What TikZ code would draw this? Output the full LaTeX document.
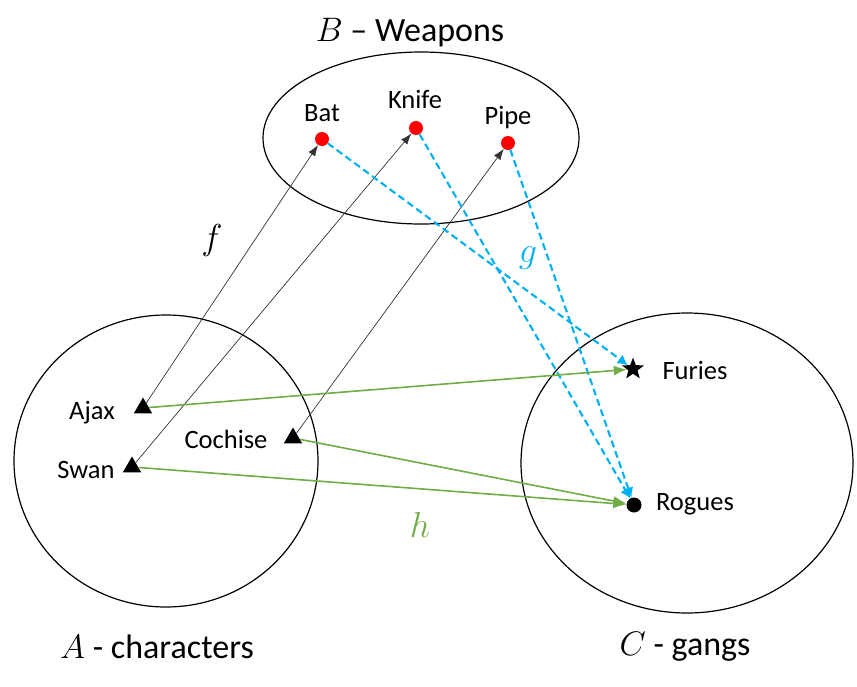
\documentclass[tikz,border=0pt]{standalone}
\usepackage{fix-cm}
\usepackage{fontspec}
\setmainfont{Carlito}
\usetikzlibrary{shapes.geometric,arrows.meta}

\definecolor{gblue}{RGB}{0,176,240}
\definecolor{hgreen}{RGB}{112,173,71}

\tikzset{
  weapon/.style={circle,fill=red,inner sep=0pt,minimum size=14pt},
  person/.style={regular polygon,regular polygon sides=3,fill=black,inner sep=0pt,minimum size=21pt},
  txt/.style={font=\fontsize{26.5}{30}\selectfont,inner sep=0pt},
  big/.style={font=\fontsize{34}{38}\selectfont,inner sep=0pt},
  mapname/.style={font=\fontsize{36}{40}\selectfont,inner sep=0pt},
  setline/.style={line width=1.2pt},
  fmap/.style={draw=black!80,line width=0.7pt,-{Latex[length=11pt,width=8pt]}},
  gmap/.style={draw=gblue,line width=2.1pt,dash pattern=on 7pt off 4pt,-{Latex[length=10pt,width=11pt]}},
  hmap/.style={draw=hgreen,line width=1.6pt,-{Latex[length=13pt,width=10pt]}},
}

\begin{document}
\begin{tikzpicture}[x=1pt,y=-1pt]
\useasboundingbox (0,0) rectangle (857,686);

%% sets
\draw[setline] (421,138) ellipse [x radius=158pt, y radius=86pt];   %% B
\draw[setline] (166,461) ellipse [x radius=152pt, y radius=146pt];  %% A
\draw[setline] (687,463) ellipse [x radius=166pt, y radius=150pt];  %% C

%% set names
\node[big] (bname) at (410,33) {$B$ -- Weapons};
\node[big] (aname) at (157,647) {$A$ - characters};
\node[big] (cname) at (685,647) {$C$ - gangs};

%% elements of B
\node[weapon] (bat) at (322,139) {};
\node[weapon] (knife) at (416,128) {};
\node[weapon] (pipe) at (508,143) {};
\node[txt] (batlbl) at (322,113) {Bat};
\node[txt] (knifelbl) at (415,99) {Knife};
\node[txt] (pipelbl) at (508,118) {Pipe};

%% elements of A
\node[person] (ajax) at (143,408) {};
\node[person] (swan) at (132,467) {};
\node[person] (cochise) at (293,438) {};
\node[txt] (ajaxlbl) at (92,413) {Ajax};
\node[txt] (swanlbl) at (86,470) {Swan};
\node[txt] (cochiselbl) at (226,439) {Cochise};

%% elements of C
\node[star,star points=5,star point ratio=2.4,fill=black,inner sep=0pt,minimum size=23pt] (furies) at (633,369) {};
\node[circle,fill=black,inner sep=0pt,minimum size=15pt] (rogues) at (634,505) {};
\node[txt] (furieslbl) at (695,370) {Furies};
\node[txt] (rogueslbl) at (695,504) {Rogues};

%% f : A -> B
\draw[fmap] (ajax) -- (bat);
\draw[fmap] (swan) -- (knife);
\draw[fmap] (cochise) -- (pipe);

%% g : B -> C
\draw[gmap] (bat) -- (furies);
\draw[gmap] (knife) -- (rogues);
\draw[gmap] (pipe) -- (rogues);

%% h : A -> C
\draw[hmap] (ajax) -- (furies);
\draw[hmap] (cochise) -- (rogues);
\draw[hmap] (swan) -- (rogues);

%% map names
\node[mapname] (fname) at (212,240) {$f$};
\node[mapname,text=gblue] (gname) at (528,258) {$g$};
\node[mapname,text=hgreen] (hname) at (420,525) {$h$};
\end{tikzpicture}
\end{document}
